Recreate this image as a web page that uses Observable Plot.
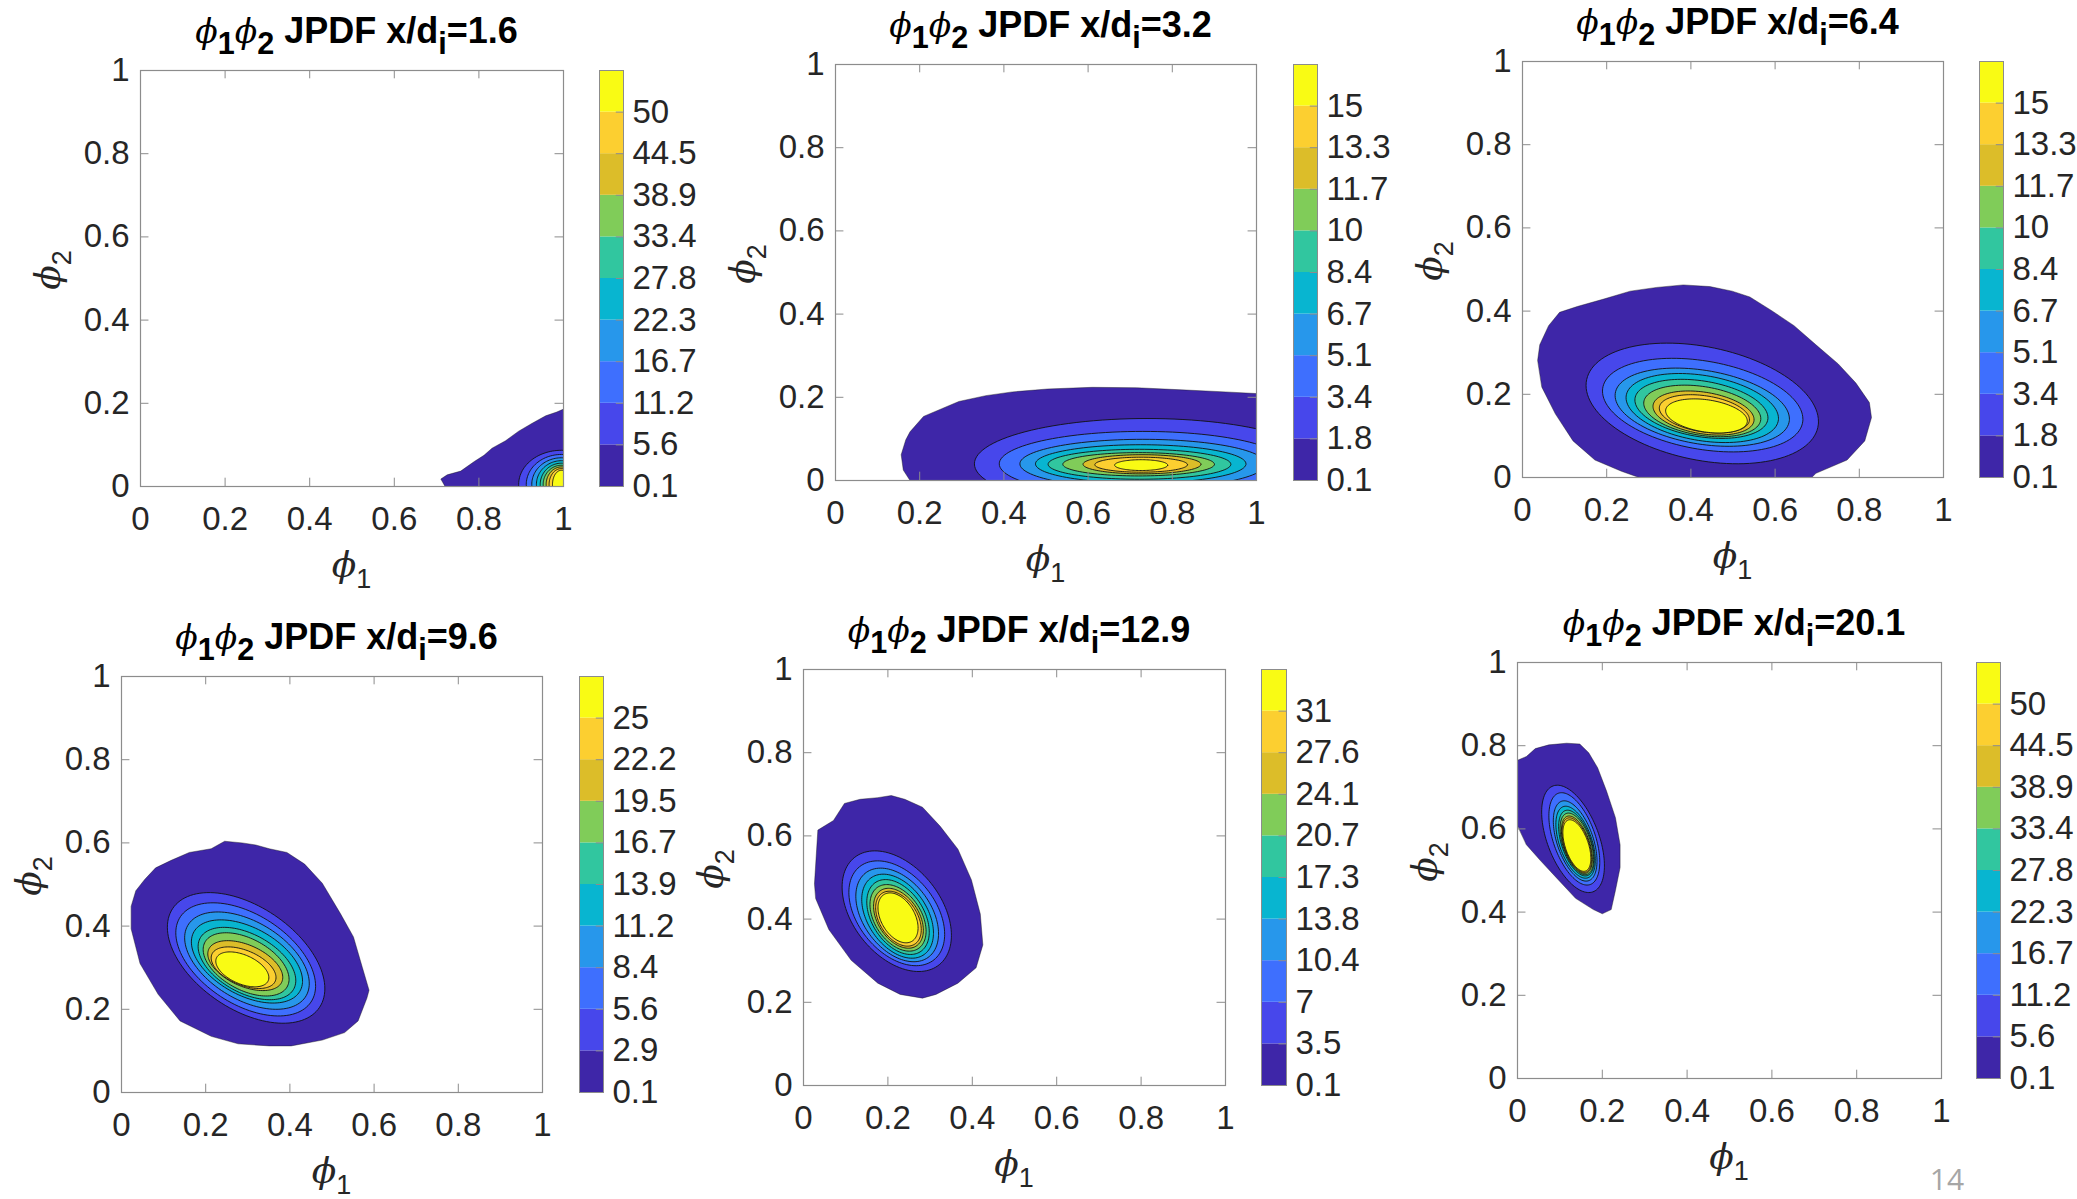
<!DOCTYPE html>
<html><head><meta charset="utf-8">
<script src="https://cdn.jsdelivr.net/npm/d3@7"></script>
<script src="https://cdn.jsdelivr.net/npm/@observablehq/plot@0.6"></script>
<style>
body{margin:0;background:#fff;}
#page{position:relative;width:2077px;height:1199px;overflow:hidden;background:#fff;}
.abs{position:absolute;}
.abs svg{max-width:none !important;}
.title{font-family:"Liberation Sans",Arial,sans-serif;font-weight:bold;font-size:36px;line-height:30px;color:#000;white-space:nowrap;transform:translateX(-50%);}
.title .phi{font-size:33px;}
.phi{font-family:"DejaVu Serif",serif;font-style:italic;font-weight:normal;}
.sb{position:relative;top:0.36em;font-size:0.85em;}
.lab{font-family:"Liberation Sans",Arial,sans-serif;font-size:34px;line-height:30px;color:#262626;white-space:nowrap;}
.lab .phi{font-size:36px;}
.lab .sb{font-size:27px;top:0.4em;}
.pg{font-family:"Open Sans",sans-serif;font-size:30px;line-height:30px;color:#a6a6a6;transform:translate(-50%,-50%);}
</style></head>
<body><div id="page"></div>
<script>
// ---------- data ----------
const phiTicks = [0, 0.2, 0.4, 0.6, 0.8, 1];
const parula = ["#3e26a8","#4747eb","#3e6ffe","#2797eb","#08b5d0","#31c69f","#80cc59","#dcbd29","#fccf30","#f9fb14"];
const stations = ["1.6","3.2","6.4","9.6","12.9","20.1"];

const levels1 = [0.1,5.6,11.2,16.7,22.3,27.8,33.4,38.9,44.5,50];
const levels2 = [0.1,1.8,3.4,5.1,6.7,8.4,10,11.7,13.3,15];
const levels3 = [0.1,1.8,3.4,5.1,6.7,8.4,10,11.7,13.3,15];
const levels4 = [0.1,2.9,5.6,8.4,11.2,13.9,16.7,19.5,22.2,25];
const levels5 = [0.1,3.5,7,10.4,13.8,17.3,20.7,24.1,27.6,31];
const levels6 = [0.1,5.6,11.2,16.7,22.3,27.8,33.4,38.9,44.5,50];

// outermost (0.1) contour, [phi1, phi2]
const outline1 = [[0.72,0],[0.71,0.018],[0.725,0.028],[0.757,0.037],[0.789,0.06],[0.812,0.075],[0.831,0.092],[0.863,0.11],[0.894,0.133],[0.926,0.152],[0.958,0.17],[0.984,0.179],[1,0.186],[1,0]];
const outline2 = [[0.177,0],[0.161,0.025],[0.156,0.062],[0.167,0.098],[0.177,0.117],[0.209,0.154],[0.251,0.172],[0.293,0.19],[0.357,0.204],[0.42,0.213],[0.504,0.22],[0.61,0.224],[0.715,0.223],[0.821,0.218],[0.926,0.213],[1,0.209],[1,0]];
const outline3 = [[0.036,0.282],[0.041,0.319],[0.062,0.365],[0.088,0.397],[0.13,0.411],[0.193,0.429],[0.256,0.448],[0.319,0.457],[0.382,0.463],[0.445,0.459],[0.498,0.448],[0.54,0.434],[0.592,0.401],[0.645,0.365],[0.697,0.319],[0.75,0.273],[0.792,0.227],[0.824,0.18],[0.829,0.144],[0.813,0.088],[0.771,0.042],[0.697,0.01],[0.687,0],[0.277,0],[0.235,0.015],[0.172,0.042],[0.12,0.088],[0.078,0.153],[0.046,0.217]];
const outline4 = [[0.023,0.448],[0.034,0.485],[0.055,0.512],[0.081,0.54],[0.118,0.558],[0.161,0.577],[0.213,0.586],[0.245,0.604],[0.287,0.6],[0.319,0.595],[0.351,0.586],[0.393,0.577],[0.435,0.549],[0.477,0.503],[0.52,0.43],[0.551,0.374],[0.572,0.301],[0.588,0.246],[0.583,0.227],[0.562,0.172],[0.53,0.144],[0.477,0.126],[0.403,0.112],[0.351,0.112],[0.277,0.117],[0.213,0.135],[0.139,0.172],[0.087,0.236],[0.044,0.31],[0.023,0.393]];
const outline5 = [[0.026,0.485],[0.034,0.614],[0.071,0.637],[0.097,0.678],[0.134,0.688],[0.176,0.692],[0.208,0.697],[0.24,0.688],[0.282,0.669],[0.324,0.623],[0.366,0.568],[0.398,0.494],[0.419,0.412],[0.425,0.338],[0.409,0.283],[0.366,0.246],[0.314,0.219],[0.282,0.21],[0.229,0.219],[0.176,0.246],[0.113,0.301],[0.06,0.375],[0.029,0.449]];
const outline6 = [[0,0.608],[0,0.765],[0.021,0.774],[0.042,0.793],[0.074,0.802],[0.116,0.806],[0.147,0.804],[0.168,0.783],[0.189,0.747],[0.21,0.691],[0.231,0.627],[0.242,0.562],[0.242,0.507],[0.231,0.452],[0.221,0.406],[0.2,0.396],[0.179,0.406],[0.137,0.433],[0.095,0.479],[0.053,0.525],[0.021,0.562]];

// inner contours: [centre phi1, centre phi2, half-width, half-height, tilt]
const rings1 = [[0.995,0.005,0.101,0.082,0],[0.995,0.005,0.083,0.072,0],[0.995,0.005,0.07,0.064,0],[0.995,0.005,0.059,0.057,0],[0.995,0.005,0.05,0.051,0],[0.995,0.005,0.043,0.046,0],[0.995,0.005,0.036,0.042,0],[0.995,0.005,0.029,0.038,0],[0.995,0.005,0.021,0.034,0]];
const rings2 = [[0.74,0.04,0.41,0.109,0],[0.73,0.04,0.341,0.078,0],[0.73,0.04,0.292,0.059,0],[0.725,0.04,0.25,0.046,0],[0.722,0.039,0.217,0.036,0],[0.72,0.039,0.18,0.028,0],[0.728,0.039,0.14,0.023,0],[0.726,0.038,0.11,0.018,0],[0.726,0.037,0.063,0.013,0]];
const rings3 = [[0.427,0.178,0.276,0.145,-0.3],[0.428,0.174,0.238,0.1125,-0.3],[0.427,0.169,0.207,0.094,-0.3],[0.427,0.167,0.181,0.083,-0.3],[0.425,0.165,0.158,0.071,-0.3],[0.427,0.16,0.139,0.062,-0.3],[0.43,0.155,0.12,0.053,-0.3],[0.432,0.153,0.107,0.046,-0.3],[0.437,0.148,0.097,0.041,-0.3]];
const rings4 = [[0.296,0.3235,0.187,0.157,-0.47],[0.295,0.32,0.166,0.136,-0.47],[0.298,0.317,0.148,0.117,-0.47],[0.298,0.315,0.132,0.1,-0.47],[0.298,0.31,0.116,0.087,-0.47],[0.296,0.308,0.102,0.076,-0.47],[0.294,0.305,0.089,0.06,-0.47],[0.29,0.3,0.077,0.05,-0.47],[0.287,0.296,0.063,0.042,-0.47]];
const rings5 = [[0.221,0.419,0.1295,0.145,-0.4],[0.221,0.414,0.1135,0.126,-0.4],[0.222,0.41,0.098,0.1125,-0.4],[0.223,0.407,0.085,0.101,-0.4],[0.224,0.405,0.074,0.09,-0.4],[0.224,0.403,0.0665,0.08,-0.4],[0.225,0.402,0.059,0.072,-0.4],[0.225,0.401,0.054,0.066,-0.4],[0.224,0.403,0.0475,0.06,-0.4]];
const rings6 = [[0.131,0.576,0.074,0.129,-0.5],[0.134,0.576,0.06,0.111,-0.5],[0.136,0.571,0.0515,0.0965,-0.5],[0.137,0.568,0.0465,0.0865,-0.5],[0.139,0.566,0.042,0.079,-0.5],[0.14,0.564,0.0395,0.074,-0.5],[0.14,0.562,0.0365,0.069,-0.5],[0.14,0.561,0.035,0.0655,-0.5],[0.14,0.56,0.033,0.062,-0.5]];

// ---------- layout ----------
const FH = 416;
const panels = [
  {st:stations[0], lv:levels1, outline:outline1, rings:rings1, L:140,  T:70,  R:563,  cbL:599,  cbR:623},
  {st:stations[1], lv:levels2, outline:outline2, rings:rings2, L:835,  T:64,  R:1256, cbL:1293, cbR:1317},
  {st:stations[2], lv:levels3, outline:outline3, rings:rings3, L:1522, T:61,  R:1943, cbL:1979, cbR:2003},
  {st:stations[3], lv:levels4, outline:outline4, rings:rings4, L:121,  T:676, R:542,  cbL:579,  cbR:603},
  {st:stations[4], lv:levels5, outline:outline5, rings:rings5, L:803,  T:669, R:1225, cbL:1261, cbR:1286},
  {st:stations[5], lv:levels6, outline:outline6, rings:rings6, L:1517, T:662, R:1941, cbL:1976, cbR:2000}
];

const page = document.getElementById("page");
const FONT = "'Liberation Sans', Arial, sans-serif";
const GRAY = "#8c8c8c";
const colorScale = {type:"ordinal", domain:d3.range(10), range:parula};

function ringPts(r){
  const [cx,cy,W,H,rho] = r, s = Math.sqrt(1-rho*rho), n = 120, pts = [];
  for (let i=0;i<n;i++){ const t = 2*Math.PI*i/n; pts.push({x:cx+W*Math.cos(t), y:cy+H*(rho*Math.cos(t)+s*Math.sin(t))}); }
  return pts;
}
function place(el, left, top, w){ const d=document.createElement("div"); d.className="abs"; d.style.left=left+"px"; d.style.top=top+"px"; if (w) d.style.width=w+"px"; d.appendChild(el); page.appendChild(d); return d; }
const phiHTML = n => `<span class="phi">ϕ</span><span class="sb">${n}</span>`;

panels.forEach(p => {
  const mL=110, mR=12, mT=12, mB=60, fw=p.R-p.L;
  const polys = [p.outline.map(([x,y])=>({x,y}))].concat(p.rings.map(ringPts));
  const contourMarks = polys.map((pts,k)=>Plot.line(pts,{x:"x", y:"y", fill:()=>k, stroke:"#111", strokeWidth:k?0.9:0.4, curve:"linear-closed", clip:true}));
  const inner = phiTicks.slice(1,-1);
  const W1 = mL+fw+mR;
  const svg = Plot.plot({
    width: W1, height: mT+FH+mB,
    marginLeft:mL, marginRight:mR, marginTop:mT, marginBottom:mB,
    style:{fontFamily:FONT, fontSize:"33px", color:"#262626", background:"transparent", overflow:"visible"},
    x:{domain:[0,1], ticks:phiTicks, tickFormat:d=>String(d), tickSize:0, tickPadding:20, label:null},
    y:{domain:[0,1], ticks:phiTicks, tickFormat:d=>String(d), tickSize:0, tickPadding:11, label:null},
    color:colorScale,
    marks:[
      ...contourMarks,
      Plot.ruleX(inner,{y1:0, y2:0.02, stroke:GRAY}),
      Plot.ruleX(inner,{y1:1, y2:0.98, stroke:GRAY}),
      Plot.ruleY(inner,{x1:0, x2:0.02, stroke:GRAY}),
      Plot.ruleY(inner,{x1:1, x2:0.98, stroke:GRAY}),
      Plot.frame({stroke:GRAY, strokeWidth:1.2})
    ]
  });
  place(svg, p.L-mL, p.T-mT, W1);

  // colorbar
  const cw = p.cbR-p.cbL, cmR=90;
  const cb = Plot.plot({
    width: cw+cmR, height: mT+FH+mB, marginLeft:0, marginRight:cmR, marginTop:mT, marginBottom:mB,
    style:{fontFamily:FONT, fontSize:"33px", color:"#262626", background:"transparent", overflow:"visible"},
    x:{domain:[0,1], axis:null},
    y:{domain:[0,10], ticks:d3.range(10), tickFormat:i=>String(p.lv[i]), tickSize:0, tickPadding:9, axis:"right", label:null},
    color:colorScale,
    marks:[
      Plot.rect(d3.range(10),{x1:0, x2:1, y1:d=>d, y2:d=>d+1, fill:d=>d}),
      Plot.ruleY(d3.range(1,10),{x1:0.7, x2:1, stroke:GRAY}),
      Plot.frame({stroke:GRAY, strokeWidth:1})
    ]
  });
  place(cb, p.cbL, p.T-mT, cw+cmR);

  // title (baseline about 29 px above the frame)
  const t = document.createElement("div");
  t.className="title";
  t.innerHTML = `${phiHTML(1)}${phiHTML(2)} JPDF x/d<span class="sb">i</span>=${p.st}`;
  place(t, (p.L+p.R)/2+5, p.T-29-25);

  // axis labels
  const xl = document.createElement("div");
  xl.className="lab"; xl.style.transform="translate(-50%,-50%)";
  xl.innerHTML = phiHTML(1);
  place(xl, (p.L+p.R)/2, p.T+FH+80);
  const yl = document.createElement("div");
  yl.className="lab"; yl.style.transform="translate(-50%,-50%) rotate(-90deg)";
  yl.innerHTML = phiHTML(2);
  place(yl, p.L-91, p.T+FH/2-8);
});

const pg = document.createElement("div");
pg.className="pg"; pg.textContent="14";
place(pg, 1947, 1179);
</script>
</body></html>
